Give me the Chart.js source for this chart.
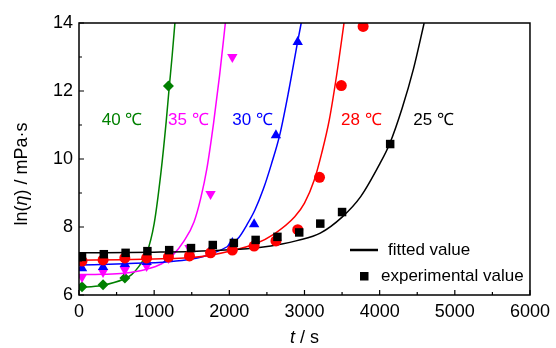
<!DOCTYPE html>
<html>
<head>
<meta charset="utf-8">
<script src="https://cdn.jsdelivr.net/npm/chart.js@4"></script>
<style>
  html, body { margin: 0; padding: 0; background: #fff; overflow: hidden; }
  canvas { display: block; }
</style>
</head>
<body>
<canvas id="c" width="556" height="348"></canvas>
<script>
// ---- measured ln(eta) values vs. curing time t (s) ----
const t25 = [40, 330, 620, 910, 1200, 1490, 1780, 2060, 2350, 2640, 2930, 3210, 3500, 4140];
const v25 = [7.12, 7.20, 7.24, 7.29, 7.32, 7.38, 7.47, 7.53, 7.62, 7.71, 7.84, 8.10, 8.44, 10.44];

const t28 = [40, 320, 610, 900, 1190, 1470, 1750, 2040, 2330, 2620, 2910, 3200, 3490, 3780];
const v28 = [7.00, 7.03, 7.09, 7.09, 7.12, 7.15, 7.24, 7.32, 7.44, 7.59, 7.92, 9.46, 12.16, 13.90];

const t30 = [40, 320, 610, 900, 1190, 1470, 1750, 2040, 2330, 2620, 2910];
const v30 = [6.79, 6.82, 6.91, 6.97, 7.06, 7.20, 7.32, 7.53, 8.08, 10.70, 13.44];

const t35 = [40, 320, 610, 900, 1190, 1470, 1750, 2040];
const v35 = [6.53, 6.68, 6.74, 6.85, 7.09, 7.38, 8.97, 13.00];

const t40 = [40, 320, 610, 900, 1190];
const v40 = [6.24, 6.30, 6.50, 7.09, 12.15];

// ---- fitted curves ----
const fitT25 = [0, 1000, 1500, 2000, 2400, 2700, 2900, 3210, 3500, 3750, 4000, 4132, 4300, 4450, 4592];
const fitV25 = [7.24, 7.26, 7.28, 7.33, 7.40, 7.50, 7.60, 7.82, 8.29, 8.90, 9.85, 10.44, 11.50, 12.65, 14.00];

const fitT28 = [0, 600, 1200, 1500, 1750, 2030, 2340, 2600, 2870, 3000, 3130, 3230, 3330, 3430, 3526];
const fitV28 = [7.02, 7.04, 7.07, 7.10, 7.17, 7.30, 7.50, 7.80, 8.30, 8.70, 9.38, 10.18, 11.15, 12.50, 14.00];

const fitT30 = [0, 600, 1200, 1500, 1750, 2030, 2130, 2230, 2340, 2450, 2560, 2670, 2790, 2908, 2974];
const fitV30 = [6.88, 6.92, 6.98, 7.06, 7.20, 7.50, 7.70, 8.05, 8.50, 9.10, 9.85, 10.70, 12.00, 13.44, 14.20];

const fitT35 = [0, 300, 600, 900, 1100, 1240, 1400, 1530, 1620, 1700, 1790, 1870, 1947];
const fitV35 = [6.60, 6.61, 6.64, 6.76, 6.92, 7.15, 7.60, 8.15, 8.85, 9.70, 11.05, 12.45, 14.00];

const fitT40 = [0, 300, 600, 700, 800, 900, 1000, 1090, 1160, 1200, 1240, 1276];
const fitV40 = [6.22, 6.28, 6.47, 6.60, 6.85, 7.22, 8.10, 9.60, 11.10, 12.10, 13.05, 14.00];

// ---- axes ----
const xTicks = [0, 1000, 2000, 3000, 4000, 5000, 6000];
const yTicks = [6, 8, 10, 12, 14];

// ---- captions ----
const tempLabels = ['40 ℃', '35 ℃', '30 ℃', '28 ℃', '25 ℃'];
const legendLabels = ['fitted value', 'experimental value'];

const FONT = '"Liberation Sans", Arial, Helvetica, sans-serif';
const COLORS = { c25: '#000000', c28: '#ff0000', c30: '#0000ff', c35: '#ff00ff', c40: '#008000' };

const pairs = (ts, vs) => ts.map((t, i) => ({ x: t, y: vs[i] }));

function fitSet(ts, vs, color) {
  return {
    data: pairs(ts, vs),
    showLine: true,
    borderColor: color,
    borderWidth: 1.5,
    pointRadius: 0,
    pointHoverRadius: 0,
    cubicInterpolationMode: 'monotone',
    fill: false,
    order: 2
  };
}
function pointSet(ts, vs, color, style, radius, rotation) {
  return {
    data: pairs(ts, vs),
    showLine: false,
    backgroundColor: color,
    borderColor: color,
    borderWidth: 0,
    pointStyle: style,
    pointRadius: radius,
    pointHoverRadius: radius,
    pointRotation: rotation || 0,
    order: 1
  };
}

// caption anchors, in data units (left edge, vertical centre)
const captionAnchors = [
  { t: 303, v: 11.13, color: COLORS.c40 },
  { t: 1184, v: 11.13, color: COLORS.c35 },
  { t: 2039, v: 11.13, color: COLORS.c30 },
  { t: 3487, v: 11.13, color: COLORS.c28 },
  { t: 4447, v: 11.13, color: COLORS.c25 }
];

function drawPieces(ctx, pieces, x, y, size) {
  let cx = x;
  for (const [txt, style] of pieces) {
    ctx.font = style + ' ' + size + 'px ' + FONT;
    ctx.fillText(txt, cx, y);
    cx += ctx.measureText(txt).width;
  }
}
function piecesWidth(ctx, pieces, size) {
  let w = 0;
  for (const [txt, style] of pieces) {
    ctx.font = style + ' ' + size + 'px ' + FONT;
    w += ctx.measureText(txt).width;
  }
  return w;
}

const decor = {
  id: 'decor',
  afterDatasetsDraw(chart) {
    const { ctx, chartArea: a, scales: { x, y } } = chart;
    ctx.save();
    // frame
    ctx.strokeStyle = '#000';
    ctx.lineWidth = 1.5;
    ctx.strokeRect(a.left, a.top, a.right - a.left, a.bottom - a.top);
    // inward tick marks, with a minor tick halfway between majors
    ctx.lineWidth = 1.2;
    ctx.beginPath();
    xTicks.forEach((t, i) => {
      const px = x.getPixelForValue(t);
      ctx.moveTo(px, a.bottom); ctx.lineTo(px, a.bottom - 5);
      if (i < xTicks.length - 1) {
        const mx = x.getPixelForValue((t + xTicks[i + 1]) / 2);
        ctx.moveTo(mx, a.bottom); ctx.lineTo(mx, a.bottom - 3);
      }
    });
    yTicks.forEach((v, i) => {
      const py = y.getPixelForValue(v);
      ctx.moveTo(a.left, py); ctx.lineTo(a.left + 5, py);
      if (i < yTicks.length - 1) {
        const my = y.getPixelForValue((v + yTicks[i + 1]) / 2);
        ctx.moveTo(a.left, my); ctx.lineTo(a.left + 3, my);
      }
    });
    ctx.stroke();
    ctx.restore();
  },
  afterDraw(chart) {
    const { ctx, chartArea: a, scales: { x, y } } = chart;
    ctx.save();
    ctx.textBaseline = 'middle';
    ctx.textAlign = 'left';

    // temperature captions
    ctx.font = '17px ' + FONT;
    captionAnchors.forEach((c, i) => {
      ctx.fillStyle = c.color;
      ctx.fillText(tempLabels[i], x.getPixelForValue(c.t), y.getPixelForValue(c.v));
    });

    // legend
    ctx.fillStyle = '#000';
    ctx.strokeStyle = '#000';
    ctx.lineWidth = 2.5;
    const ly1 = a.top + 227, ly2 = a.top + 253;
    ctx.beginPath();
    ctx.moveTo(a.left + 271, ly1); ctx.lineTo(a.left + 299, ly1);
    ctx.stroke();
    ctx.fillRect(a.left + 281, ly2 - 4, 8.5, 8.5);
    ctx.font = '17px ' + FONT;
    ctx.fillText(legendLabels[0], a.left + 309, ly1);
    ctx.fillText(legendLabels[1], a.left + 302, ly2);

    // x axis title
    const xt = [['t', 'italic'], [' / s', 'normal']];
    const xw = piecesWidth(ctx, xt, 18);
    drawPieces(ctx, xt, (a.left + a.right) / 2 - xw / 2, 338, 18);

    // y axis title
    const yt = [['ln(', 'normal'], ['η', 'italic'], [') / mPa·s', 'normal']];
    const yw = piecesWidth(ctx, yt, 18);
    ctx.translate(22, 174);
    ctx.rotate(-Math.PI / 2);
    drawPieces(ctx, yt, -yw / 2, 0, 18);
    ctx.restore();
  }
};

new Chart(document.getElementById('c'), {
  type: 'scatter',
  data: {
    datasets: [
      pointSet(t25, v25, COLORS.c25, 'rect', 6),
      pointSet(t28, v28, COLORS.c28, 'circle', 5.5),
      pointSet(t30, v30, COLORS.c30, 'triangle', 6),
      pointSet(t35, v35, COLORS.c35, 'triangle', 6, 180),
      pointSet(t40, v40, COLORS.c40, 'rectRot', 5.5),
      fitSet(fitT25, fitV25, COLORS.c25),
      fitSet(fitT28, fitV28, COLORS.c28),
      fitSet(fitT30, fitV30, COLORS.c30),
      fitSet(fitT35, fitV35, COLORS.c35),
      fitSet(fitT40, fitV40, COLORS.c40)
    ]
  },
  options: {
    responsive: false,
    devicePixelRatio: 1,
    animation: false,
    layout: { padding: { left: 0, top: 23, right: 21, bottom: 0 } },
    plugins: { legend: { display: false }, tooltip: { enabled: false } },
    scales: {
      x: {
        type: 'linear',
        min: 0, max: 6000,
        grid: { display: false, drawTicks: false },
        border: { display: false },
        afterBuildTicks: (s) => { s.ticks = xTicks.map(v => ({ value: v })); },
        afterFit: (s) => { s.height = 53; },
        ticks: {
          color: '#000', font: { family: FONT, size: 18 }, padding: 6, maxRotation: 0,
          callback: (v) => String(v)
        }
      },
      y: {
        type: 'linear',
        min: 6, max: 14,
        grid: { display: false, drawTicks: false },
        border: { display: false },
        afterBuildTicks: (s) => { s.ticks = yTicks.map(v => ({ value: v })); },
        afterFit: (s) => { s.width = 79; },
        ticks: { color: '#000', font: { family: FONT, size: 18 }, padding: 6, callback: (v) => String(v) }
      }
    }
  },
  plugins: [decor]
});
</script>
</body>
</html>
